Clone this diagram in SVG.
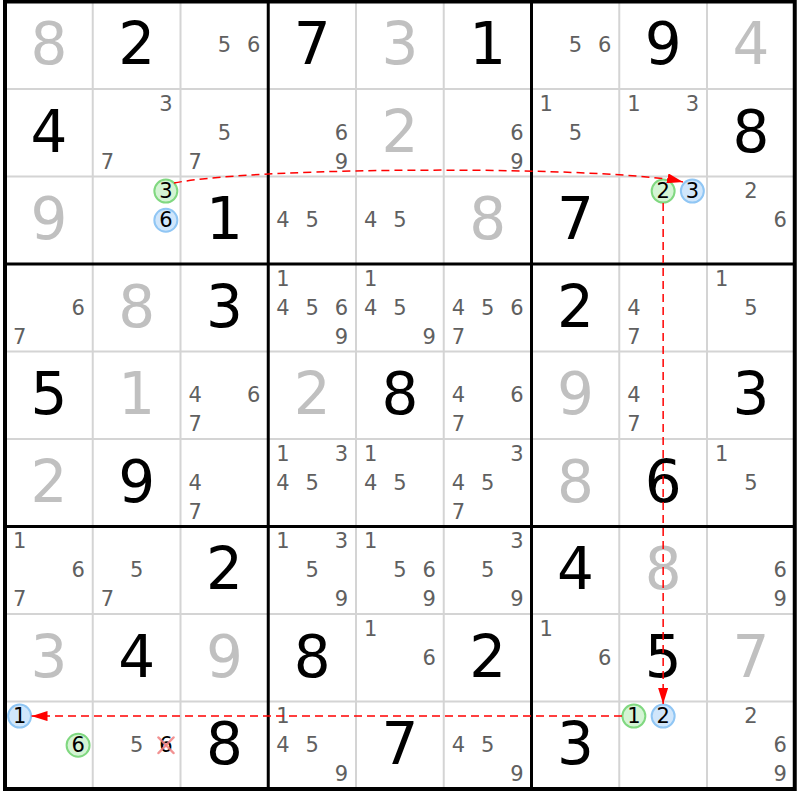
<svg xmlns="http://www.w3.org/2000/svg" width="800" height="800" viewBox="0 0 800 800">
<style>
text { font-family: "DejaVu Sans", Verdana, sans-serif; text-anchor: middle; }
.v { font-size: 58px; fill: #c0c0c0; }
.s { font-size: 58px; fill: #000000; }
.c { font-size: 21px; fill: #606060; }
.k { font-size: 21px; fill: #000000; }
.gc { fill: #d4f4d4; stroke: #80d880; stroke-width: 2; }
.bc { fill: #d0e6fb; stroke: #90c6f4; stroke-width: 2; }
.thin { stroke: #d4d4d4; stroke-width: 2; }
.thick { stroke: #000000; stroke-width: 3; }
.link { fill: none; stroke: #ff0000; stroke-width: 1.5; stroke-dasharray: 8 5; marker-end: url(#ah); }
.x { stroke: #f08080; stroke-width: 2.5; stroke-linecap: round; opacity: 0.85; }
</style>
<defs>
<marker id="ah" markerUnits="userSpaceOnUse" markerWidth="16" markerHeight="10" refX="16" refY="5" orient="auto">
<path d="M0,0 L16,5 L0,10 z" fill="#ff0000"/>
</marker>
</defs>
<rect x="0" y="0" width="800" height="800" fill="#ffffff"/>
<g id="grid">
<g class="thin">
<line x1="92.75" y1="1.5" x2="92.75" y2="789"/>
<line x1="180.5" y1="1.5" x2="180.5" y2="789"/>
<line x1="356" y1="1.5" x2="356" y2="789"/>
<line x1="443.75" y1="1.5" x2="443.75" y2="789"/>
<line x1="619.25" y1="1.5" x2="619.25" y2="789"/>
<line x1="707" y1="1.5" x2="707" y2="789"/>
<line x1="5" y1="89" x2="794.75" y2="89"/>
<line x1="5" y1="176.5" x2="794.75" y2="176.5"/>
<line x1="5" y1="351.5" x2="794.75" y2="351.5"/>
<line x1="5" y1="439" x2="794.75" y2="439"/>
<line x1="5" y1="614" x2="794.75" y2="614"/>
<line x1="5" y1="701.5" x2="794.75" y2="701.5"/>
</g>
<g class="thick">
<line x1="268.25" y1="1.5" x2="268.25" y2="789"/>
<line x1="531.5" y1="1.5" x2="531.5" y2="789"/>
<line x1="5" y1="264" x2="794.75" y2="264"/>
<line x1="5" y1="526.5" x2="794.75" y2="526.5"/>
</g>
<rect x="5" y="1.5" width="789.75" height="787.5" fill="none" stroke="#000" stroke-width="4"/>
</g>

<g id="r1c1"><text class="v" x="48.9" y="64.25">8</text></g>
<g id="r1c2"><text class="s" x="136.6" y="64.25">2</text></g>
<g id="r1c3"><text class="c" x="224.4" y="52.25">5</text><text class="c" x="253.6" y="52.25">6</text></g>
<g id="r1c4"><text class="s" x="312.1" y="64.25">7</text></g>
<g id="r1c5"><text class="v" x="399.9" y="64.25">3</text></g>
<g id="r1c6"><text class="s" x="487.6" y="64.25">1</text></g>
<g id="r1c7"><text class="c" x="575.4" y="52.25">5</text><text class="c" x="604.6" y="52.25">6</text></g>
<g id="r1c8"><text class="s" x="663.1" y="64.25">9</text></g>
<g id="r1c9"><text class="v" x="750.9" y="64.25">4</text></g>

<g id="r2c1"><text class="s" x="48.9" y="151.75">4</text></g>
<g id="r2c2"><text class="c" x="165.85" y="110.6">3</text><text class="c" x="107.35" y="168.9">7</text></g>
<g id="r2c3"><text class="c" x="224.4" y="139.75">5</text><text class="c" x="195.1" y="168.9">7</text></g>
<g id="r2c4"><text class="c" x="341.35" y="139.75">6</text><text class="c" x="341.35" y="168.9">9</text></g>
<g id="r2c5"><text class="v" x="399.9" y="151.75">2</text></g>
<g id="r2c6"><text class="c" x="516.85" y="139.75">6</text><text class="c" x="516.85" y="168.9">9</text></g>
<g id="r2c7"><text class="c" x="546.1" y="110.6">1</text><text class="c" x="575.4" y="139.75">5</text></g>
<g id="r2c8"><text class="c" x="633.85" y="110.6">1</text><text class="c" x="692.35" y="110.6">3</text></g>
<g id="r2c9"><text class="s" x="750.9" y="151.75">8</text></g>

<g id="r3c1"><text class="v" x="48.9" y="239.25">9</text></g>
<g id="r3c2"><circle class="gc" cx="165.85" cy="191.1" r="11.5"/><text class="k" x="165.85" y="198.1">3</text><circle class="bc" cx="165.85" cy="220.25" r="11.5"/><text class="k" x="165.85" y="227.25">6</text></g>
<g id="r3c3"><text class="s" x="224.4" y="239.25">1</text></g>
<g id="r3c4"><text class="c" x="282.85" y="227.25">4</text><text class="c" x="312.15" y="227.25">5</text></g>
<g id="r3c5"><text class="c" x="370.6" y="227.25">4</text><text class="c" x="399.9" y="227.25">5</text></g>
<g id="r3c6"><text class="v" x="487.6" y="239.25">8</text></g>
<g id="r3c7"><text class="s" x="575.4" y="239.25">7</text></g>
<g id="r3c8"><circle class="gc" cx="663.15" cy="191.1" r="11.5"/><text class="k" x="663.15" y="198.1">2</text><circle class="bc" cx="692.35" cy="191.1" r="11.5"/><text class="k" x="692.35" y="198.1">3</text></g>
<g id="r3c9"><text class="c" x="750.9" y="198.1">2</text><text class="c" x="780.1" y="227.25">6</text></g>

<g id="r4c1"><text class="c" x="78.1" y="314.75">6</text><text class="c" x="19.6" y="343.9">7</text></g>
<g id="r4c2"><text class="v" x="136.6" y="326.75">8</text></g>
<g id="r4c3"><text class="s" x="224.4" y="326.75">3</text></g>
<g id="r4c4"><text class="c" x="282.85" y="285.6">1</text><text class="c" x="282.85" y="314.75">4</text><text class="c" x="312.15" y="314.75">5</text><text class="c" x="341.35" y="314.75">6</text><text class="c" x="341.35" y="343.9">9</text></g>
<g id="r4c5"><text class="c" x="370.6" y="285.6">1</text><text class="c" x="370.6" y="314.75">4</text><text class="c" x="399.9" y="314.75">5</text><text class="c" x="429.1" y="343.9">9</text></g>
<g id="r4c6"><text class="c" x="458.35" y="314.75">4</text><text class="c" x="487.65" y="314.75">5</text><text class="c" x="516.85" y="314.75">6</text><text class="c" x="458.35" y="343.9">7</text></g>
<g id="r4c7"><text class="s" x="575.4" y="326.75">2</text></g>
<g id="r4c8"><text class="c" x="633.85" y="314.75">4</text><text class="c" x="633.85" y="343.9">7</text></g>
<g id="r4c9"><text class="c" x="721.6" y="285.6">1</text><text class="c" x="750.9" y="314.75">5</text></g>

<g id="r5c1"><text class="s" x="48.9" y="414.25">5</text></g>
<g id="r5c2"><text class="v" x="136.6" y="414.25">1</text></g>
<g id="r5c3"><text class="c" x="195.1" y="402.25">4</text><text class="c" x="253.6" y="402.25">6</text><text class="c" x="195.1" y="431.4">7</text></g>
<g id="r5c4"><text class="v" x="312.1" y="414.25">2</text></g>
<g id="r5c5"><text class="s" x="399.9" y="414.25">8</text></g>
<g id="r5c6"><text class="c" x="458.35" y="402.25">4</text><text class="c" x="516.85" y="402.25">6</text><text class="c" x="458.35" y="431.4">7</text></g>
<g id="r5c7"><text class="v" x="575.4" y="414.25">9</text></g>
<g id="r5c8"><text class="c" x="633.85" y="402.25">4</text><text class="c" x="633.85" y="431.4">7</text></g>
<g id="r5c9"><text class="s" x="750.9" y="414.25">3</text></g>

<g id="r6c1"><text class="v" x="48.9" y="501.75">2</text></g>
<g id="r6c2"><text class="s" x="136.6" y="501.75">9</text></g>
<g id="r6c3"><text class="c" x="195.1" y="489.75">4</text><text class="c" x="195.1" y="518.9">7</text></g>
<g id="r6c4"><text class="c" x="282.85" y="460.6">1</text><text class="c" x="341.35" y="460.6">3</text><text class="c" x="282.85" y="489.75">4</text><text class="c" x="312.15" y="489.75">5</text></g>
<g id="r6c5"><text class="c" x="370.6" y="460.6">1</text><text class="c" x="370.6" y="489.75">4</text><text class="c" x="399.9" y="489.75">5</text></g>
<g id="r6c6"><text class="c" x="516.85" y="460.6">3</text><text class="c" x="458.35" y="489.75">4</text><text class="c" x="487.65" y="489.75">5</text><text class="c" x="458.35" y="518.9">7</text></g>
<g id="r6c7"><text class="v" x="575.4" y="501.75">8</text></g>
<g id="r6c8"><text class="s" x="663.1" y="501.75">6</text></g>
<g id="r6c9"><text class="c" x="721.6" y="460.6">1</text><text class="c" x="750.9" y="489.75">5</text></g>

<g id="r7c1"><text class="c" x="19.6" y="548.1">1</text><text class="c" x="78.1" y="577.25">6</text><text class="c" x="19.6" y="606.4">7</text></g>
<g id="r7c2"><text class="c" x="136.65" y="577.25">5</text><text class="c" x="107.35" y="606.4">7</text></g>
<g id="r7c3"><text class="s" x="224.4" y="589.25">2</text></g>
<g id="r7c4"><text class="c" x="282.85" y="548.1">1</text><text class="c" x="341.35" y="548.1">3</text><text class="c" x="312.15" y="577.25">5</text><text class="c" x="341.35" y="606.4">9</text></g>
<g id="r7c5"><text class="c" x="370.6" y="548.1">1</text><text class="c" x="399.9" y="577.25">5</text><text class="c" x="429.1" y="577.25">6</text><text class="c" x="429.1" y="606.4">9</text></g>
<g id="r7c6"><text class="c" x="516.85" y="548.1">3</text><text class="c" x="487.65" y="577.25">5</text><text class="c" x="516.85" y="606.4">9</text></g>
<g id="r7c7"><text class="s" x="575.4" y="589.25">4</text></g>
<g id="r7c8"><text class="v" x="663.1" y="589.25">8</text></g>
<g id="r7c9"><text class="c" x="780.1" y="577.25">6</text><text class="c" x="780.1" y="606.4">9</text></g>

<g id="r8c1"><text class="v" x="48.9" y="676.75">3</text></g>
<g id="r8c2"><text class="s" x="136.6" y="676.75">4</text></g>
<g id="r8c3"><text class="v" x="224.4" y="676.75">9</text></g>
<g id="r8c4"><text class="s" x="312.1" y="676.75">8</text></g>
<g id="r8c5"><text class="c" x="370.6" y="635.6">1</text><text class="c" x="429.1" y="664.75">6</text></g>
<g id="r8c6"><text class="s" x="487.6" y="676.75">2</text></g>
<g id="r8c7"><text class="c" x="546.1" y="635.6">1</text><text class="c" x="604.6" y="664.75">6</text></g>
<g id="r8c8"><text class="s" x="663.1" y="676.75">5</text></g>
<g id="r8c9"><text class="v" x="750.9" y="676.75">7</text></g>

<g id="r9c1"><circle class="bc" cx="19.6" cy="716.1" r="11.5"/><text class="k" x="19.6" y="723.1">1</text><circle class="gc" cx="78.1" cy="745.25" r="11.5"/><text class="k" x="78.1" y="752.25">6</text></g>
<g id="r9c2"><text class="c" x="136.65" y="752.25">5</text><text class="k" x="165.85" y="752.25">6</text><line class="x" x1="158.5" y1="737.5" x2="173.5" y2="753"/><line class="x" x1="173.5" y1="737.5" x2="158.5" y2="753"/></g>
<g id="r9c3"><text class="s" x="224.4" y="764.25">8</text></g>
<g id="r9c4"><text class="c" x="282.85" y="723.1">1</text><text class="c" x="282.85" y="752.25">4</text><text class="c" x="312.15" y="752.25">5</text><text class="c" x="341.35" y="781.4">9</text></g>
<g id="r9c5"><text class="s" x="399.9" y="764.25">7</text></g>
<g id="r9c6"><text class="c" x="458.35" y="752.25">4</text><text class="c" x="487.65" y="752.25">5</text><text class="c" x="516.85" y="781.4">9</text></g>
<g id="r9c7"><text class="s" x="575.4" y="764.25">3</text></g>
<g id="r9c8"><circle class="gc" cx="633.85" cy="716.1" r="11.5"/><text class="k" x="633.85" y="723.1">1</text><circle class="bc" cx="663.15" cy="716.1" r="11.5"/><text class="k" x="663.15" y="723.1">2</text></g>
<g id="r9c9"><text class="c" x="750.9" y="723.1">2</text><text class="c" x="780.1" y="752.25">6</text><text class="c" x="780.1" y="781.4">9</text></g>

<g id="connectors">
<path class="link" d="M174,183 C260,166 615,166 683,182"/>
<path class="link" d="M663.15,203 L663.15,704"/>
<path class="link" d="M622,716.1 L31.5,716.1"/>
</g>
</svg>
